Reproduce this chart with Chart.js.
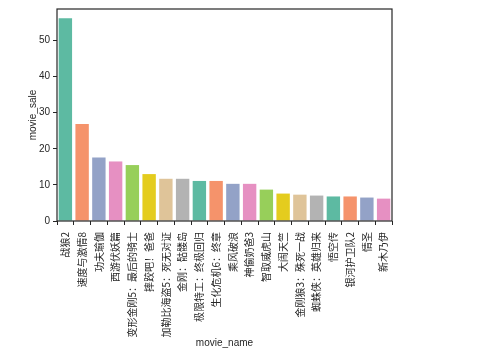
<!DOCTYPE html>
<html><head><meta charset="utf-8">
<script src="https://cdn.jsdelivr.net/npm/chart.js@4/dist/chart.umd.min.js"></script>
<style>html,body{margin:0;padding:0;background:#fff}#wrap{width:495px;height:356px}</style>
</head><body><div id="wrap"><canvas id="c" width="495" height="356"></canvas></div>
<script>
const categories = ["战狼2","速度与激情8","功夫瑜伽","西游伏妖篇","变形金刚5：最后的骑士","摔跤吧！爸爸","加勒比海盗5：死无对证","金刚：骷髅岛","极限特工：终极回归","生化危机6：终章","乘风破浪","神偷奶爸3","智取威虎山","大闹天竺","金刚狼3：殊死一战","蜘蛛侠：英雄归来","悟空传","银河护卫队2","情圣","新木乃伊"];
const movieSale = [56.2,26.9,17.6,16.5,15.5,13.0,11.7,11.7,11.1,11.1,10.3,10.3,8.7,7.6,7.3,7.05,6.8,6.8,6.5,6.2];
const yTicks = [0,10,20,30,40,50];
const palette = ["#5dbaa2","#f5936b","#93a2c7","#e690c2","#97cf5a","#e4cc1e","#dfc499","#b3b3b3"];

const frame = {
  id:'frame',
  afterDraw(chart){
    const a = chart.chartArea, ctx = chart.ctx;
    ctx.save(); ctx.strokeStyle = '#262626'; ctx.lineWidth = 1.2;
    ctx.strokeRect(a.left, a.top, a.right - a.left, a.bottom - a.top);
    ctx.restore();
  }
};

new Chart(document.getElementById('c'), {
  type:'bar',
  data:{labels:categories, datasets:[{data:movieSale, backgroundColor:categories.map((_,i)=>palette[i%palette.length]), barPercentage:0.8, categoryPercentage:1}]},
  options:{
    responsive:false, animation:false,
    layout:{padding:{top:4.5,right:103,left:0,bottom:0}},
    plugins:{legend:{display:false},tooltip:{enabled:false}},
    scales:{
      x:{
        grid:{display:true,drawOnChartArea:false,tickLength:4,color:'#262626',tickWidth:1},
        border:{display:false},
        ticks:{maxRotation:90,minRotation:90,autoSkip:false,color:'#262626',padding:7,font:{family:'"Noto Sans CJK SC", sans-serif',size:10}},
        title:{display:true,text:'movie_name',color:'#262626',font:{family:'"Liberation Sans", Arial, sans-serif',size:10},padding:{top:0,bottom:7}},
        afterFit(s){s.height=135;}
      },
      y:{
        min:0,max:58.75,
        afterBuildTicks(s){s.ticks = yTicks.map(v=>({value:v}));},
        grid:{display:true,drawOnChartArea:false,tickLength:4,color:'#262626',tickWidth:1},
        border:{display:false},
        ticks:{color:'#262626',padding:3,font:{family:'"Liberation Sans", Arial, sans-serif',size:10}},
        title:{display:true,text:'movie_sale',color:'#262626',font:{family:'"Liberation Sans", Arial, sans-serif',size:10},padding:{top:27,bottom:4}},
        afterFit(s){s.width=57;}
      }
    }
  },
  plugins:[frame]
});
</script></body></html>
